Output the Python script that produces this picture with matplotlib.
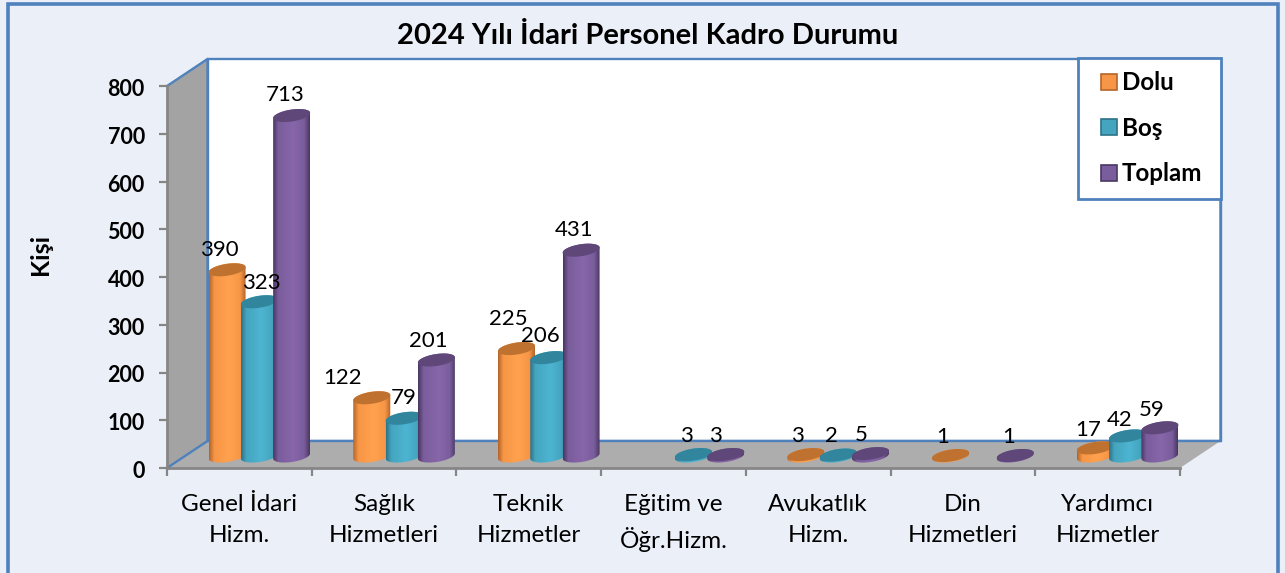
import numpy as np
from matplotlib import pyplot as plt
from matplotlib.colors import LinearSegmentedColormap
from matplotlib.legend_handler import HandlerPatch
from matplotlib.patches import Patch, PathPatch, Polygon, Rectangle
from matplotlib.path import Path
from matplotlib.transforms import ScaledTranslation

plt.rcParams['font.family'] = ['Lato', 'DejaVu Sans']

categories = ['Genel İdari\nHizm.', 'Sağlık\nHizmetleri', 'Teknik\nHizmetler', 'Eğitim ve\nÖğr.Hizm.',
              'Avukatlık\nHizm.', 'Din\nHizmetleri', 'Yardımcı\nHizmetler']
dolu = [390, 122, 225, 0, 3, 1, 17]
bos = [323, 79, 206, 3, 2, 0, 42]
toplam = [713, 201, 431, 3, 5, 1, 59]
yticks = [0, 100, 200, 300, 400, 500, 600, 700, 800]

W, H = 1285, 573
BLUE = '#4F81BD'
BG = '#EBF0F8'
GREY = '#868686'

# name, values, (edge, mid, light), top colour
series = [
    ('Dolu', dolu, ('#B5652A', '#F79646', '#FFA24F'), '#BF7230'),
    ('Boş', bos, ('#2C7389', '#45A5BF', '#4DB5D2'), '#31859C'),
    ('Toplam', toplam, ('#4A3763', '#7A5D9C', '#8766A9'), '#5F4879'),
]

# label offsets in pixels from the top of each bar (moved by hand in the original)
label_offsets = [
    [(-8, 20), (2, 19), (-7, 21)],
    [(-29, 20), (0, 20), (-8, 19)],
    [(-8, 30), (-8, 22), (-7, 20)],
    [None, (-7, 19), (-10, 19)],
    [(-8, 19), (-7, 19), (-9, 19)],
    [(-8, 19), None, (-7, 19)],
    [(-7, 18), (-8, 16), (-8, 18)],
]

fig = plt.figure(figsize=(W / 100, H / 100), dpi=100, facecolor=BG)
fig.add_artist(Rectangle((8 / W, -0.02), 1270 / W, 1.0 - 4 / H + 0.02, transform=fig.transFigure,
                         fill=False, edgecolor=BLUE, linewidth=2.6))

ax = fig.add_axes([167 / W, 1 - 468 / H, 1013 / W, 382 / H])
ax.set_xlim(0, 7)
ax.set_ylim(0, 800)
ax.patch.set_alpha(0)

px_x = 7 / 1013
px_y = 800 / 382
DX = 40.5 * px_x
DY = 27 * px_y

# back wall, side wall, floor
ax.add_patch(Polygon([(DX, DY), (7 + DX, DY), (7 + DX, 800 + DY), (DX, 800 + DY)], closed=True,
                     facecolor='white', edgecolor=BLUE, linewidth=1.7, clip_on=False, zorder=1))
ax.add_patch(Polygon([(0, 0), (DX, DY), (DX, 800 + DY), (0, 800)], closed=True,
                     facecolor='#A3A3A3', edgecolor='none', clip_on=False, zorder=1.5))
ax.add_patch(Polygon([(0, 0), (DX, DY), (7 + DX, DY), (7, 0)], closed=True,
                     facecolor='#ADADAD', edgecolor='none', clip_on=False, zorder=1.5))
ax.plot([0, DX, 7 + DX, 7 + DX], [0, DY, DY, 800 + DY], color=BLUE, lw=1.7, clip_on=False, zorder=1.7)
ax.plot([0, DX, DX], [800, 800 + DY, DY], color=BLUE, lw=1.7, clip_on=False, zorder=1.7)

half_w = 18.5 * px_x
half_h = 6.0 * px_y
tilt = 2.6 * px_y
step = 32.3 * px_x
shift = 20 * px_x
lift = 12 * px_y
t = np.linspace(0, 2 * np.pi, 81)


def ellipse(xc, yc, ts):
    return xc + half_w * np.cos(ts), yc + half_h * np.sin(ts) + tilt * np.cos(ts)


def cylinder(xc, value, colors, top_color, z):
    base = lift
    top = lift + value
    xb, yb = ellipse(xc, base, np.linspace(np.pi, 2 * np.pi, 40))
    xt, yt = ellipse(xc, top, np.linspace(0, np.pi, 40))
    verts = np.column_stack([np.r_[xb, xt], np.r_[yb, yt]])
    verts = np.vstack([verts, verts[0]])
    body = PathPatch(Path(verts), facecolor='none', edgecolor='none', clip_on=False, zorder=z)
    ax.add_patch(body)
    cmap = LinearSegmentedColormap.from_list(
        'c', [(0, colors[0]), (0.14, colors[1]), (0.55, colors[2]), (0.85, colors[1]), (1, colors[0])])
    im = ax.imshow(np.linspace(0, 1, 64).reshape(1, -1), cmap=cmap, aspect='auto', zorder=z,
                   extent=[xc - half_w, xc + half_w, base - half_h - tilt, top + half_h + tilt])
    im.set_clip_path(body.get_path(), ax.transData)
    xe, ye = ellipse(xc, top, t)
    ax.fill(xe, ye, color=top_color, lw=0, clip_on=False, zorder=z + 0.01)


for i, cat in enumerate(categories):
    for j, (name, values, colors, top_color) in enumerate(series):
        v = values[i]
        if v == 0:
            continue
        xc = i + 0.5 + shift + (j - 1) * step
        cylinder(xc, v, colors, top_color, 3 + j + i * 0.1)
        off = label_offsets[i][j]
        ax.annotate(str(v), (xc, lift + v), xytext=off, textcoords='offset pixels', ha='center', va='center',
                    fontsize=16, color='black', zorder=8, annotation_clip=False)

ax.set_xlim(0, 7)
ax.set_ylim(0, 800)

ax.set_xticks(np.arange(8))
ax.set_xticklabels([])
ax.set_xticks(np.arange(7) + 0.5, minor=True)
ax.set_xticklabels(categories, minor=True, fontsize=17.5, linespacing=1.55)
ax.tick_params(axis='x', which='major', length=6, width=1.6, color=GREY)
ax.tick_params(axis='x', which='minor', length=0, pad=19)
ax.set_yticks(yticks)
ax.set_yticklabels([str(v) for v in yticks], fontsize=15.5, fontweight='bold')
ax.tick_params(axis='y', length=6, width=1.6, color=GREY, pad=10)
for lab in ax.get_yticklabels():
    lab.set_transform(lab.get_transform() + ScaledTranslation(0, -1.5 / 100, fig.dpi_scale_trans))
for s in ['top', 'right']:
    ax.spines[s].set_visible(False)
for s in ['left', 'bottom']:
    ax.spines[s].set_color(GREY)
    ax.spines[s].set_linewidth(2)
    ax.spines[s].set_zorder(2)

fig.text(41 / W, 1 - 254 / H, 'Kişi', rotation=90, ha='center', va='center', fontsize=18, fontweight='bold')
fig.text(648 / W, 1 - 36 / H, '2024 Yılı İdari Personel Kadro Durumu', ha='center', va='center',
         fontsize=21, fontweight='bold')


def legend_square(legend, orig_handle, xdescent, ydescent, width, height, fontsize):
    # small square pushed right inside the handle slot
    side = 11.5
    return Rectangle((width - side, (height - side) / 2), side, side)


handles = [Patch(facecolor=c[1], edgecolor=c[0], linewidth=1.2, label=n) for n, _, c, _ in series]
leg = fig.legend(handles=handles, loc='upper left', mode='expand',
                 bbox_to_anchor=(1077.5 / W, 1 - 194 / H, 143.5 / W, 136.5 / H), ncols=1,
                 prop={'size': 17.4, 'weight': 'bold'}, frameon=True, fancybox=False, framealpha=1,
                 facecolor='white', edgecolor=BLUE, handlelength=1.075, handleheight=0.7, handletextpad=0.2,
                 labelspacing=0.93, borderpad=0.56, borderaxespad=0,
                 handler_map={Patch: HandlerPatch(patch_func=legend_square)})
leg.get_frame().set_linewidth(2)
leg.set_zorder(10)

fig.savefig('out.png', dpi=100, facecolor=BG)
